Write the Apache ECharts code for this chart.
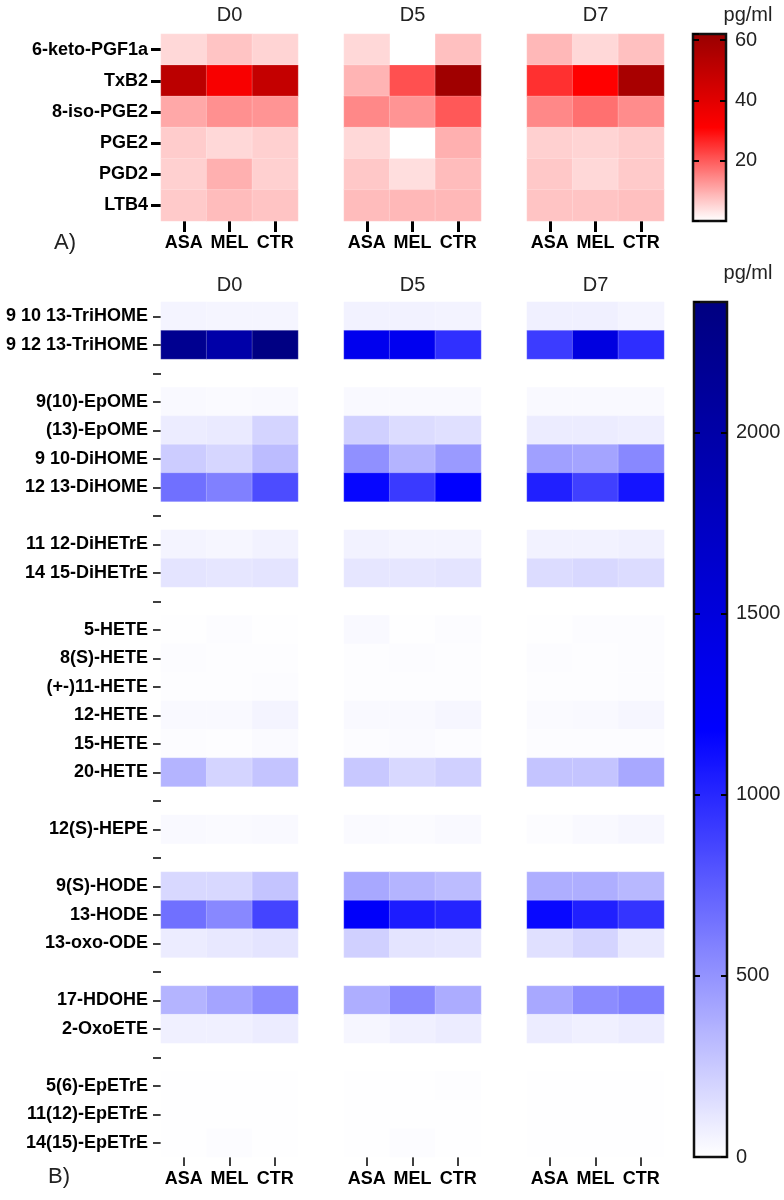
<!DOCTYPE html>
<html>
<head>
<meta charset="utf-8">
<script src="https://cdn.jsdelivr.net/npm/echarts@6/dist/echarts.min.js"></script>
<style>
  html, body { margin: 0; padding: 0; background: #fff; }
  #chart { width: 784px; height: 1200px; }
</style>
</head>
<body>
<div id="chart"></div>
<script>
const days = ['D0', 'D5', 'D7']
const groups = ['ASA', 'MEL', 'CTR']

const topRows = ['6-keto-PGF1a', 'TxB2', '8-iso-PGE2', 'PGE2', 'PGD2', 'LTB4']
// '' = spacer row (tick only)
const bottomRows = [
  '9 10 13-TriHOME', '9 12 13-TriHOME', '',
  '9(10)-EpOME', '(13)-EpOME', '9 10-DiHOME', '12 13-DiHOME', '',
  '11 12-DiHETrE', '14 15-DiHETrE', '',
  '5-HETE', '8(S)-HETE', '(+-)11-HETE', '12-HETE', '15-HETE', '20-HETE', '',
  '12(S)-HEPE', '',
  '9(S)-HODE', '13-HODE', '13-oxo-ODE', '',
  '17-HDOHE', '2-OxoETE', '',
  '5(6)-EpETrE', '11(12)-EpETrE', '14(15)-EpETrE',
]

// pg/ml, columns ASA / MEL / CTR, null = missing
const topD0 = [
  [4.7, 7.2, 5.2],
  [51.7, 33, 49],
  [10.6, 13.5, 13],
  [6.2, 4.7, 5.7],
  [5.7, 9.6, 5.7],
  [6.5, 8.1, 7.2],
]
const topD5 = [
  [4.7, null, 7.7],
  [9.1, 21.3, 59.9],
  [14.5, 13, 20.3],
  [4.7, null, 9.6],
  [6.7, 4.0, 8.1],
  [8.1, 8.6, 8.6],
]
const topD7 = [
  [8.6, 4.7, 7.7],
  [25.2, 31, 57.4],
  [14.5, 17.4, 14],
  [5.7, 5.2, 6.2],
  [6.7, 4.7, 6.5],
  [7.2, 7.2, 7.7],
]

const bottomD0 = [
  [50, 48, 45], [2210, 1990, 2330], null,
  [28, 25, 30], [88, 97, 199], [236, 190, 310], [662, 588, 828], null,
  [51, 42, 60], [125, 116, 125], null,
  [5, 14, 5], [14, 10, 10], [10, 10, 14], [30, 30, 51], [14, 10, 23], [347, 199, 273], null,
  [30, 23, 30], null,
  [180, 180, 273], [662, 551, 865], [88, 106, 125], null,
  [347, 421, 532], [70, 70, 88], null,
  [5, 5, 5], [5, 5, 5], [3, 15, 5],
]
const bottomD5 = [
  [58, 60, 55], [1340, 1320, 958], null,
  [30, 28, 28], [217, 162, 143], [514, 347, 467], [1150, 912, 1190], null,
  [60, 51, 51], [116, 116, 125], null,
  [30, 5, 14], [10, 14, 10], [10, 10, 10], [30, 28, 42], [14, 23, 14], [254, 180, 217], null,
  [23, 20, 30], null,
  [402, 347, 310], [1230, 1050, 1013], [217, 125, 116], null,
  [375, 551, 384], [42, 70, 88], null,
  [5, 5, 8], [5, 5, 5], [5, 12, 5],
]
const bottomD7 = [
  [68, 68, 52], [902, 1468, 967], null,
  [30, 28, 30], [88, 88, 79], [440, 421, 551], [1032, 884, 1087], null,
  [60, 60, 70], [162, 180, 162], null,
  [5, 14, 14], [14, 10, 14], [10, 10, 14], [23, 30, 42], [14, 14, 14], [273, 273, 402], null,
  [14, 30, 42], null,
  [375, 375, 329], [1143, 1032, 939], [143, 199, 106], null,
  [402, 532, 588], [88, 70, 88], null,
  [5, 5, 5], [5, 5, 5], [5, 5, 5],
]

const topMax = 62
const bottomMax = 2360
const topTickLabels = [20, 40, 60]
const bottomTickLabels = [0, 500, 1000, 1500, 2000]

const FONT = '"Liberation Sans", Arial, sans-serif'
const blockLeft = [161, 344, 527]
const blockWidth = 137
const panels = [
  { rows: topRows, values: [topD0, topD5, topD7], top: 34, height: 187, tickLen: 10, tickW: 3, title: 15,
    bar: { left: 693, width: 33 }, max: topMax, labels: topTickLabels, interval: 20,
    colors: ['#ffffff', '#ff0000', '#990000'], unitY: 15, letter: 'A)', letterY: 243, letterX: 54 },
  { rows: bottomRows, values: [bottomD0, bottomD5, bottomD7], top: 302, height: 855, tickLen: 8, tickW: 1.5, title: 285,
    bar: { left: 694, width: 33 }, max: bottomMax, labels: bottomTickLabels, interval: 500,
    colors: ['#ffffff', '#0000ff', '#000080'], unitY: 273, letter: 'B)', letterY: 1177, letterX: 48 },
]

function toCells(rows) {
  const cells = []
  rows.forEach((row, y) => {
    if (!row) return
    row.forEach((v, x) => cells.push([x, y, v == null ? '-' : v]))
  })
  return cells
}

const grid = []
const xAxis = []
const yAxis = []
const series = []
const visualMap = []
const graphic = []

const textStyle = (size, align) => ({
  font: size + 'px ' + FONT, fill: '#222',
  align, verticalAlign: 'middle', textAlign: align, textVerticalAlign: 'middle',
})

panels.forEach(p => {
  const seriesIdx = []
  days.forEach((day, di) => {
    const gi = grid.length
    const xi = xAxis.length
    const yi = yAxis.length
    grid.push({ left: blockLeft[di], top: p.top, width: blockWidth, height: p.height })
    xAxis.push({
      type: 'category', gridIndex: gi, data: groups,
      axisLine: { show: false },
      axisTick: { show: true, alignWithLabel: true, length: p.tickLen + 1, lineStyle: { color: '#000', width: p.tickW } },
      axisLabel: { interval: 0, color: '#000', fontFamily: FONT, fontWeight: 'bold', fontSize: 18, margin: 13 },
      splitLine: { show: false },
    })
    yAxis.push({
      type: 'category', gridIndex: gi, data: p.rows, inverse: true,
      axisLine: { show: false },
      axisTick: { show: di === 0, alignWithLabel: true, interval: 0, length: p.tickLen, lineStyle: { color: '#000', width: p.tickW } },
      axisLabel: { show: di === 0, interval: 0, color: '#000', fontFamily: FONT, fontWeight: 'bold', fontSize: 18, margin: 13 },
      splitLine: { show: false },
    })
    seriesIdx.push(series.length)
    series.push({
      type: 'heatmap', xAxisIndex: xi, yAxisIndex: yi,
      data: toCells(p.values[di]),
      itemStyle: { borderColor: 'rgba(255,255,255,0.35)', borderWidth: 0.6 },
      emphasis: { disabled: true },
    })
    graphic.push({
      type: 'text', x: blockLeft[di] + blockWidth / 2, y: p.title,
      style: Object.assign({ text: day }, textStyle(20, 'center')),
    })
  })

  // colour bar: visualMap gradient with a bordered grid and value axes on top
  visualMap.push({
    type: 'continuous', seriesIndex: seriesIdx, dimension: 2,
    min: 0, max: p.max, calculable: false, hoverLink: false,
    left: p.bar.left, top: p.top, itemWidth: p.bar.width, itemHeight: p.height, padding: 0,
    inRange: { color: p.colors },
  })
  const gi = grid.length
  grid.push({ left: p.bar.left, top: p.top, width: p.bar.width, height: p.height, show: true, borderColor: '#111', borderWidth: 2.5, z: 10 })
  xAxis.push({ type: 'value', gridIndex: gi, show: false })
  const barTick = { show: true, inside: true, length: 6, lineStyle: { color: '#000', width: 2 } }
  yAxis.push({
    type: 'value', gridIndex: gi, min: 0, max: p.max, interval: p.interval, z: 11,
    axisLine: { show: false }, axisTick: barTick, axisLabel: { show: false }, splitLine: { show: false },
  })
  yAxis.push({
    type: 'value', gridIndex: gi, position: 'right', min: 0, max: p.max, interval: p.interval, z: 11,
    axisLine: { show: false }, axisTick: barTick, splitLine: { show: false },
    axisLabel: {
      color: '#222', fontFamily: FONT, fontSize: 20, margin: 9, showMaxLabel: false,
      formatter: v => (p.labels.indexOf(v) >= 0 ? String(v) : ''),
    },
  })
  graphic.push({ type: 'text', x: 748, y: p.unitY, style: Object.assign({ text: 'pg/ml' }, textStyle(20, 'center')) })
  graphic.push({ type: 'text', x: p.letterX, y: p.letterY, style: Object.assign({ text: p.letter }, textStyle(22, 'left')) })
})

const chart = echarts.init(document.getElementById('chart'))
chart.setOption({
  backgroundColor: '#fff',
  animation: false,
  grid, xAxis, yAxis, series, visualMap, graphic,
})
</script>
</body>
</html>
